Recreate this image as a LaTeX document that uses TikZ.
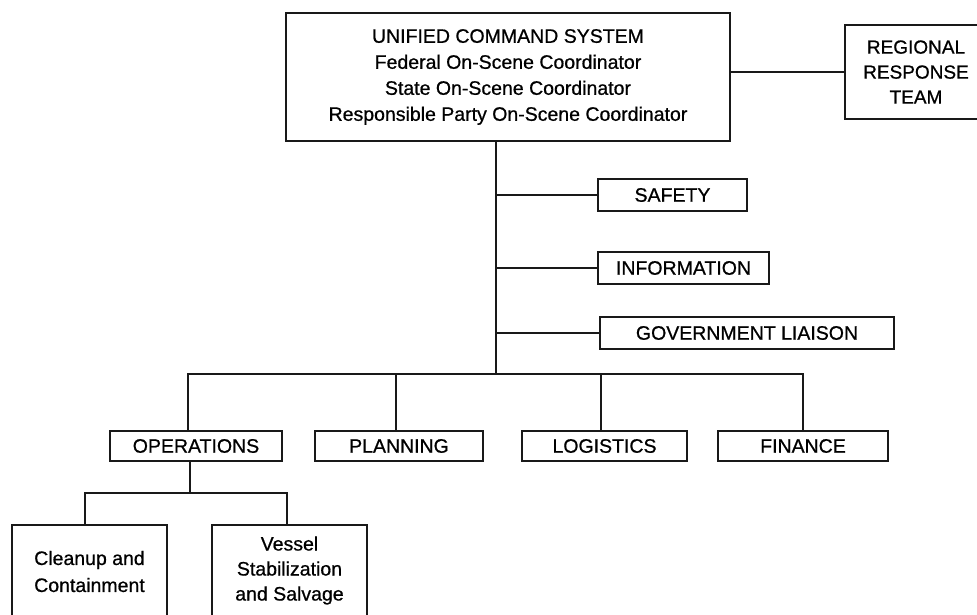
\documentclass[tikz,border=0pt]{standalone}
\usepackage{fontspec}
\setmainfont{Liberation Sans}[BoldFont={Liberation Sans},BoldFeatures={FakeBold=0.7}]
\begin{document}
\begin{tikzpicture}[x=1pt,y=-1pt,
  box/.style={draw=black!90, line width=1.8pt, inner sep=0pt, align=center,
              font=\fontsize{19.5}{26}\selectfont\bfseries},
  wire/.style={draw=black!90, line width=1.8pt}]
\path[use as bounding box, fill=white] (0,0) rectangle (977,614);
\clip (0,0) rectangle (977,614);
% top level
\node[box, minimum width=444pt, minimum height=128pt] (main) at (508,77)
  {UNIFIED COMMAND SYSTEM\\Federal On-Scene Coordinator\\State On-Scene Coordinator\\Responsible Party On-Scene Coordinator};
\node[box, minimum width=142pt, minimum height=94pt, font=\fontsize{19}{25}\selectfont\bfseries] (rrt) at (916,72)
  {REGIONAL\\RESPONSE\\TEAM};
% staff
\node[box, minimum width=149pt, minimum height=32pt] (safety) at (672.5,195) {SAFETY};
\node[box, minimum width=171pt, minimum height=32pt] (info) at (683.5,268) {INFORMATION};
\node[box, minimum width=294pt, minimum height=32pt] (gov) at (747,333) {GOVERNMENT LIAISON};
% sections
\node[box, minimum width=172pt, minimum height=30pt] (ops) at (196,446) {OPERATIONS};
\node[box, minimum width=168pt, minimum height=30pt] (plan) at (399,446) {PLANNING};
\node[box, minimum width=165pt, minimum height=30pt] (logi) at (604.5,446) {LOGISTICS};
\node[box, minimum width=170pt, minimum height=30pt] (fin) at (803,446) {FINANCE};
% branches
\node[box, minimum width=155pt, minimum height=93pt, font=\fontsize{19.5}{27}\selectfont\bfseries] (clean) at (89.5,571.5)
  {Cleanup and\\Containment};
\node[box, minimum width=155pt, minimum height=91pt, font=\fontsize{19.5}{25}\selectfont\bfseries] (vessel) at (289.5,570.5)
  {Vessel\\Stabilization\\and Salvage};
% connectors
\coordinate (trunktop) at (496,141);
\coordinate (bus) at (496,374);
\coordinate (subbus) at (190,493);
\draw[wire] (trunktop) -- (bus);
\draw[wire] (rrt.west) -- (rrt.west -| main.east);
\draw[wire] (safety.west) -- (safety.west -| bus);
\draw[wire] (info.west) -- (info.west -| bus);
\draw[wire] (gov.west) -- (gov.west -| bus);
\draw[wire] ([xshift=-8pt]ops.north) |- (bus) -| (fin.north);
\draw[wire] ([xshift=-3pt]plan.north) -- ([xshift=-3pt]plan.north |- bus);
\draw[wire] ([xshift=-3.5pt]logi.north) -- ([xshift=-3.5pt]logi.north |- bus);
\draw[wire] ([xshift=-6pt]ops.south) -- (subbus);
\draw[wire] ([xshift=-4.5pt]clean.north) |- (subbus) -| ([xshift=-2.5pt]vessel.north);
\end{tikzpicture}
\end{document}
